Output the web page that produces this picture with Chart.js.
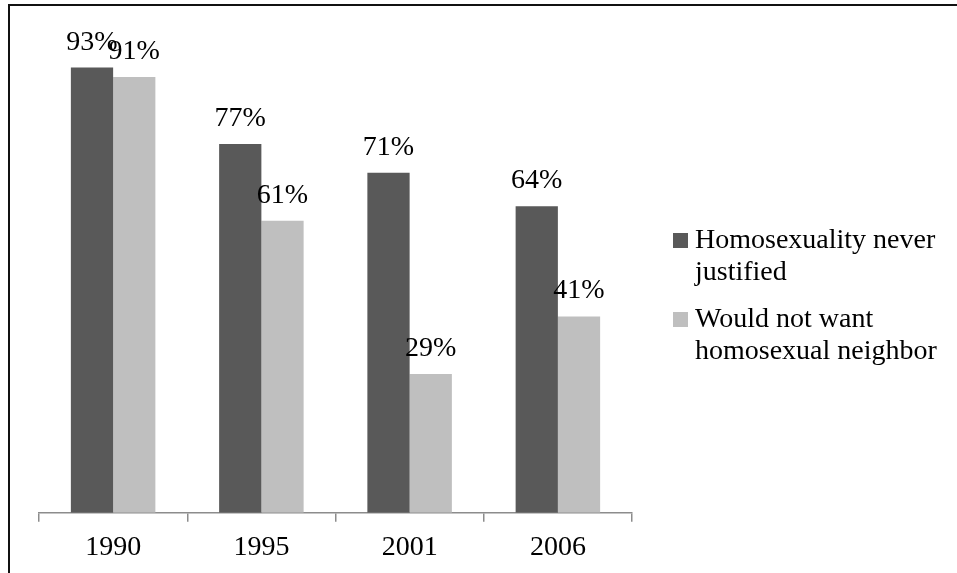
<!DOCTYPE html>
<html>
<head>
<meta charset="utf-8">
<script src="https://cdn.jsdelivr.net/npm/chart.js@4"></script>
<style>
  html, body { margin: 0; padding: 0; background: #fff; }
  #wrap { position: relative; width: 957px; height: 573px; overflow: hidden; }
  #marco { position: absolute; left: 8px; top: 4px; width: 1000px; height: 700px;
           border-top: 2px solid #111; border-left: 2px solid #111; }
  #grafico { position: absolute; left: 0; top: 0; }
  #leyenda { position: absolute; left: 673px; top: 223px; width: 270px;
             font-family: "Liberation Serif", serif; font-size: 28px; line-height: 32px; color: #000; }
  .item { position: relative; padding-left: 22px; margin-bottom: 15px; }
  .caja { position: absolute; left: 0; top: 10px; width: 15px; height: 15px; }
</style>
</head>
<body>
<div id="wrap">
  <div id="marco"></div>
  <canvas id="grafico" width="957" height="573"></canvas>
  <div id="leyenda"></div>
</div>
<script>
// datos
const anios = ['1990', '1995', '2001', '2006'];
const nuncaJustificada = [93, 77, 71, 64];
const noQuiereVecino = [91, 61, 29, 41];
const nombresSeries = ['Homosexuality never justified', 'Would not want homosexual neighbor'];
const coloresSeries = ['#595959', '#bfbfbf'];

const fuente = '"Liberation Serif", serif';

// etiquetas de porcentaje encima de cada barra
const etiquetasPlugin = {
    id: 'etiquetas',
    afterDatasetsDraw(chart) {
        const ctx = chart.ctx;
        ctx.save();
        ctx.font = '28px ' + fuente;
        ctx.fillStyle = '#000';
        ctx.textAlign = 'center';
        ctx.textBaseline = 'alphabetic';
        chart.data.datasets.forEach((ds, i) => {
            chart.getDatasetMeta(i).data.forEach((barra, j) => {
                ctx.fillText(ds.data[j] + '%', barra.x, barra.y - 18);
            });
        });
        ctx.restore();
    }
};

const grafico = new Chart(document.getElementById('grafico'), {
    type: 'bar',
    data: {
        labels: anios,
        datasets: [
            { label: nombresSeries[0], data: nuncaJustificada, backgroundColor: coloresSeries[0] },
            { label: nombresSeries[1], data: noQuiereVecino, backgroundColor: coloresSeries[1] }
        ]
    },
    options: {
        responsive: false,
        animation: false,
        layout: { padding: { left: 39, right: 325, top: 34, bottom: 0 } },
        datasets: { bar: { categoryPercentage: 0.57, barPercentage: 1.0 } },
        plugins: { legend: { display: false }, tooltip: { enabled: false } },
        scales: {
            x: {
                grid: { offset: true, drawOnChartArea: false, drawTicks: true, tickLength: 9,
                        color: '#8c8c8c', lineWidth: 1.5 },
                border: { display: true, color: '#8c8c8c', width: 1.5 },
                ticks: { color: '#000', font: { family: fuente, size: 28, lineHeight: 1.4 }, padding: 6 }
            },
            y: { display: false, min: 0, max: 100 }
        }
    },
    plugins: [etiquetasPlugin]
});

// leyenda en HTML a la derecha
const leyenda = document.getElementById('leyenda');
nombresSeries.forEach((nombre, i) => {
    const item = document.createElement('div');
    item.className = 'item';
    const caja = document.createElement('span');
    caja.className = 'caja';
    caja.style.background = coloresSeries[i];
    item.appendChild(caja);
    item.appendChild(document.createTextNode(nombre));
    leyenda.appendChild(item);
});
</script>
</body>
</html>
